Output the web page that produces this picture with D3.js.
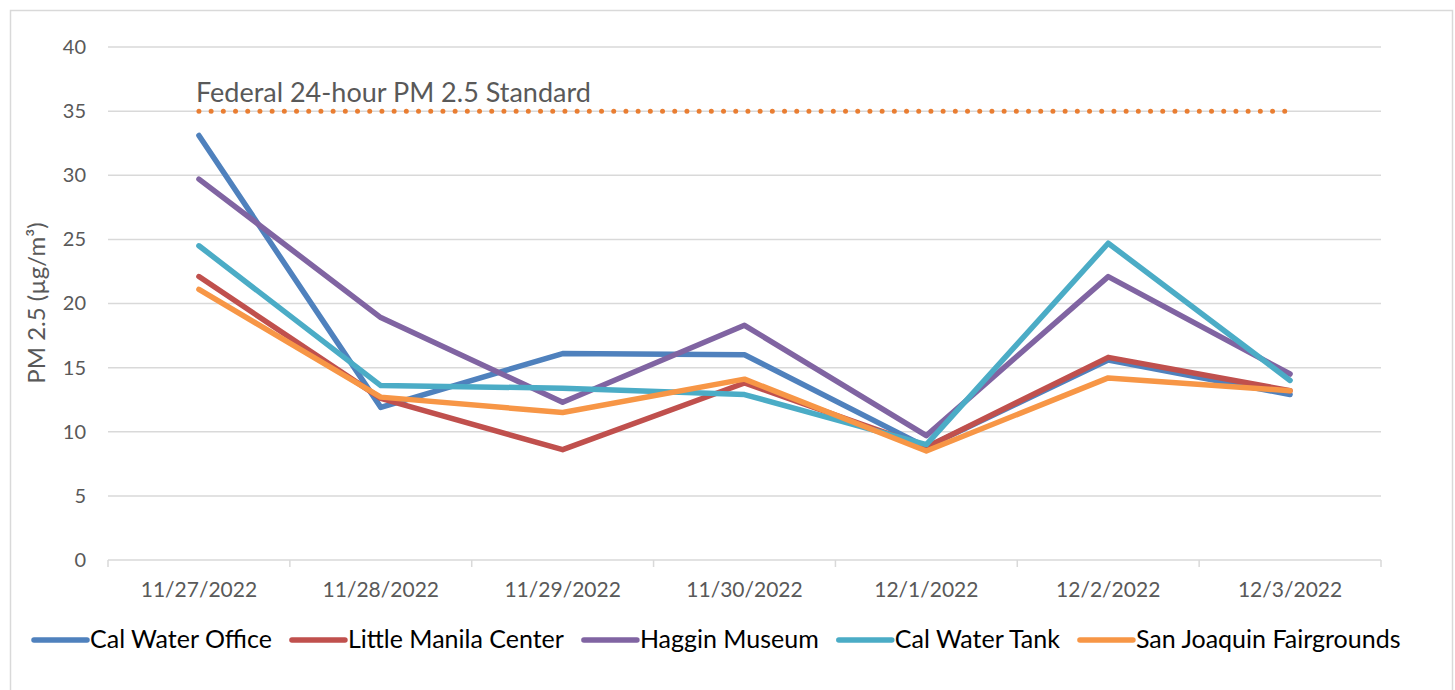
<!DOCTYPE html>
<html>
<head>
<meta charset="utf-8">
<script src="https://cdn.jsdelivr.net/npm/d3@7"></script>
<style>
  body { margin: 0; background: #fff; }
  svg text { font-family: "Lato", "Noto Sans", sans-serif; }
</style>
</head>
<body>
<svg id="chart" width="1455" height="690"></svg>
<script>
const dates = ["11/27/2022", "11/28/2022", "11/29/2022", "11/30/2022", "12/1/2022", "12/2/2022", "12/3/2022"];
const yTicks = [0, 5, 10, 15, 20, 25, 30, 35, 40];

const calWaterOffice = [33.1, 11.9, 16.1, 16.0, 8.8, 15.6, 12.9];
const littleManila = [22.1, 12.6, 8.6, 13.8, 8.8, 15.8, 13.2];
const hagginMuseum = [29.7, 18.9, 12.3, 18.3, 9.7, 22.1, 14.5];
const calWaterTank = [24.5, 13.6, 13.4, 12.9, 9.0, 24.7, 14.0];
const sanJoaquin = [21.1, 12.7, 11.5, 14.1, 8.5, 14.2, 13.2];

const standardValue = 35;
const standardLabel = "Federal 24-hour PM 2.5 Standard";

const series = [
  { name: "Cal Water Office", values: calWaterOffice, color: "#4F81BD" },
  { name: "Little Manila Center", values: littleManila, color: "#C0504D" },
  { name: "Haggin Museum", values: hagginMuseum, color: "#8064A2" },
  { name: "Cal Water Tank", values: calWaterTank, color: "#4BACC6" },
  { name: "San Joaquin Fairgrounds", values: sanJoaquin, color: "#F79646" }
];

const svg = d3.select("#chart");
const plot = { left: 108, right: 1381, top: 47, bottom: 560 };

// outer border
svg.append("rect")
  .attr("x", 10.5).attr("y", 10.5)
  .attr("width", 1442).attr("height", 700)
  .attr("fill", "none")
  .attr("stroke", "#D9D9D9")
  .attr("stroke-width", 1.5);

const x = d3.scaleBand().domain(dates).range([plot.left, plot.right]);
const cx = d => x(d) + x.bandwidth() / 2;
const y = d3.scaleLinear().domain([0, 40]).range([plot.bottom, plot.top]);

// gridlines
svg.append("g")
  .selectAll("line")
  .data(yTicks.filter(t => t > 0))
  .enter()
  .append("line")
  .attr("x1", plot.left).attr("x2", plot.right)
  .attr("y1", d => y(d)).attr("y2", d => y(d))
  .attr("stroke", "#D9D9D9")
  .attr("stroke-width", 1.5);

// y axis labels
const yAxis = svg.append("g")
  .attr("transform", `translate(${plot.left}, 0)`)
  .call(d3.axisLeft(y).tickValues(yTicks).tickSize(0).tickPadding(22));
yAxis.select(".domain").remove();
yAxis.selectAll("text")
  .attr("fill", "#595959")
  .style("font-size", "20px");

// x axis
svg.append("line")
  .attr("x1", plot.left).attr("x2", plot.right)
  .attr("y1", plot.bottom).attr("y2", plot.bottom)
  .attr("stroke", "#D9D9D9")
  .attr("stroke-width", 1.5);

svg.append("g")
  .selectAll("line")
  .data(dates.concat(["end"]))
  .enter()
  .append("line")
  .attr("x1", (d, i) => i < dates.length ? x(d) : plot.right)
  .attr("x2", (d, i) => i < dates.length ? x(d) : plot.right)
  .attr("y1", plot.bottom).attr("y2", plot.bottom + 7)
  .attr("stroke", "#D9D9D9")
  .attr("stroke-width", 1.5);

svg.append("g")
  .selectAll("text")
  .data(dates)
  .enter()
  .append("text")
  .attr("x", d => cx(d))
  .attr("y", 597)
  .attr("text-anchor", "middle")
  .attr("fill", "#595959")
  .style("font-size", "21px")
  .text(d => d);

// y axis title
svg.append("text")
  .attr("transform", `translate(45, 303) rotate(-90)`)
  .attr("text-anchor", "middle")
  .attr("fill", "#595959")
  .style("font-size", "24px")
  .text("PM 2.5 (µg/m³)");

// standard line
svg.append("line")
  .attr("x1", cx(dates[0])).attr("x2", cx(dates[dates.length - 1]))
  .attr("y1", y(standardValue)).attr("y2", y(standardValue))
  .attr("stroke", "#E97E32")
  .attr("stroke-width", 5)
  .attr("stroke-linecap", "round")
  .attr("stroke-dasharray", "0,12.2");

svg.append("text")
  .attr("x", cx(dates[0]) - 3)
  .attr("y", y(standardValue) - 9)
  .attr("fill", "#595959")
  .style("font-size", "27px")
  .text(standardLabel);

// series lines
const line = d3.line()
  .x((d, i) => cx(dates[i]))
  .y(d => y(d));

svg.append("g")
  .selectAll("path")
  .data(series)
  .enter()
  .append("path")
  .attr("d", d => line(d.values))
  .attr("fill", "none")
  .attr("stroke", d => d.color)
  .attr("stroke-width", 5.5)
  .attr("stroke-linejoin", "round")
  .attr("stroke-linecap", "round");

// legend
const legend = svg.append("g");
let lx = 34;
series.forEach(s => {
  legend.append("line")
    .attr("x1", lx).attr("x2", lx + 53)
    .attr("y1", 640).attr("y2", 640)
    .attr("stroke", s.color)
    .attr("stroke-width", 5.5)
    .attr("stroke-linecap", "round");
  const t = legend.append("text")
    .attr("x", lx + 56)
    .attr("y", 648)
    .attr("fill", "#000")
    .style("font-size", "25px")
    .text(s.name);
  lx += 56 + t.node().getComputedTextLength() + 20;
});
</script>
</body>
</html>
